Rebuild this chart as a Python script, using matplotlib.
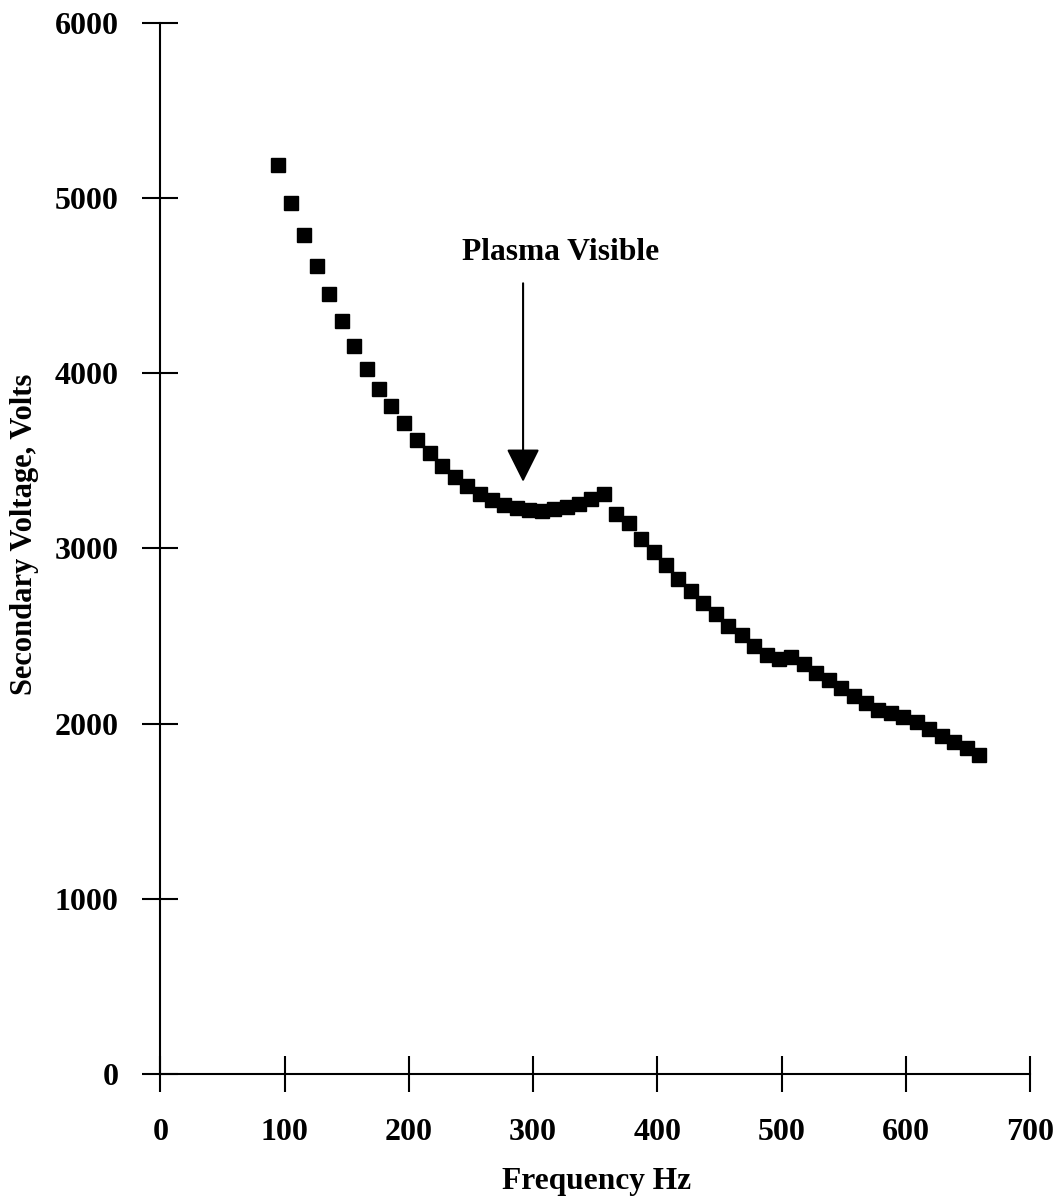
import matplotlib
matplotlib.use("Agg")
import matplotlib.pyplot as plt

# Data
freq_hz = [95, 105, 116, 126, 136, 146, 156, 166, 176, 186,
           196, 207, 217, 227, 237, 247, 257, 267, 277, 287,
           297, 307, 317, 327, 337, 347, 357, 367, 377, 387,
           397, 407, 417, 427, 437, 447, 457, 468, 478, 488,
           498, 508, 518, 528, 538, 548, 558, 568, 578, 588,
           598, 609, 619, 629, 639, 649, 659]
voltage = [5187, 4974, 4789, 4611, 4449, 4297, 4154, 4025, 3911, 3812,
           3713, 3620, 3542, 3469, 3408, 3355, 3310, 3275, 3247, 3228,
           3218, 3214, 3222, 3234, 3256, 3281, 3313, 3197, 3144, 3052,
           2980, 2904, 2825, 2758, 2686, 2623, 2558, 2505, 2442, 2391,
           2366, 2380, 2338, 2286, 2248, 2204, 2157, 2115, 2077, 2062,
           2039, 2010, 1967, 1929, 1896, 1858, 1820]

x_ticks = [0, 100, 200, 300, 400, 500, 600, 700]
y_ticks = [0, 1000, 2000, 3000, 4000, 5000, 6000]

annot_text = "Plasma Visible"
annot_tip = (292, 3380)
annot_tail = (292, 4513)

plt.rcParams['font.family'] = ['Liberation Serif', 'DejaVu Serif']
plt.rcParams['font.weight'] = 'bold'

fig = plt.figure(figsize=(10.62, 12.03), dpi=100)
ax = fig.add_axes([0.1509, 0.1072, 0.8190, 0.8739])

ax.plot(freq_hz, voltage, linestyle='none', marker='s', markersize=9.8,
        color='black')

ax.set_xlim(0, 700)
ax.set_ylim(0, 6000)
ax.set_xticks(x_ticks)
ax.set_yticks(y_ticks)
ax.tick_params(direction='inout', length=26, width=1.5, labelsize=23)
ax.tick_params(axis='x', pad=19)
ax.tick_params(axis='y', pad=17)
for lab in ax.get_xticklabels() + ax.get_yticklabels():
    lab.set_fontweight('bold')

ax.spines['top'].set_visible(False)
ax.spines['right'].set_visible(False)
ax.spines['left'].set_linewidth(1.5)
ax.spines['bottom'].set_linewidth(1.5)

# Annotation arrow
ax.annotate("", xy=annot_tip, xytext=annot_tail,
            arrowprops=dict(arrowstyle='-|>', color='black', lw=1.5,
                            mutation_scale=52, shrinkA=0, shrinkB=0))
ax.text(322, 4690, annot_text, ha='center', va='center', fontsize=22.7,
        fontweight='bold')

fig.text(0.5619, 1 - 1182 / 1203, "Frequency Hz", ha='center', va='center',
         fontsize=22.7, fontweight='bold')
fig.text(25 / 1062, 1 - 534 / 1203, "Secondary Voltage, Volts", ha='center',
         va='center', rotation=90, fontsize=22, fontweight='bold')

fig.savefig("out.png", dpi=100)
